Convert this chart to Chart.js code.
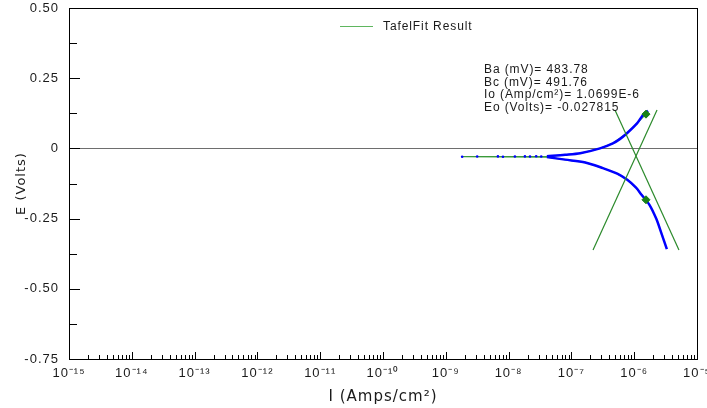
<!DOCTYPE html>
<html>
<head>
<meta charset="utf-8">
<script src="https://cdn.jsdelivr.net/npm/chart.js@4"></script>
<style>
  body { margin: 0; background: #fff; }
  #tafel-chart { display: block; }
</style>
</head>
<body>
<canvas id="tafel-chart" width="707" height="408"></canvas>
<script>
// axis ticks
const xTickExps = [-15, -14, -13, -12, -11, -10, -9, -8, -7, -6, -5];
const yTickValues = [-0.75, -0.5, -0.25, 0, 0.25, 0.5];

// measured scan, cathodic branch (|I| in A/cm2, E in V)
const cathodicI = [4.07e-8, 7.94e-8, 1.66e-7, 3.16e-7, 5.37e-7, 7.76e-7, 1.07e-6, 1.32e-6, 1.74e-6, 2.24e-6, 2.69e-6, 3.31e-6];
const cathodicE = [-0.031, -0.040, -0.050, -0.070, -0.090, -0.112, -0.140, -0.166, -0.200, -0.250, -0.300, -0.359];

// measured scan, anodic branch
const anodicI = [4.07e-8, 7.94e-8, 1.38e-7, 2.85e-7, 4.57e-7, 5.89e-7, 7.67e-7, 1.11e-6, 1.38e-6, 1.66e-6];
const anodicE = [-0.028, -0.023, -0.0175, 0.0, 0.018, 0.033, 0.054, 0.089, 0.119, 0.134];

// scattered points around Ecorr
const noiseI = [1.82e-9, 3.16e-9, 6.76e-9, 8.13e-9, 1.26e-8, 1.82e-8, 2.19e-8, 2.75e-8, 3.31e-8];
const noiseE = [-0.0295, -0.029, -0.0285, -0.0295, -0.029, -0.0285, -0.029, -0.028, -0.029];

// TafelFit result curve
const fitI = [1.54e-6, 1.32e-6, 1.07e-6, 7.76e-7, 5.37e-7, 3.16e-7, 1.66e-7, 7.94e-8, 4.07e-8, 1.82e-9, 4.07e-8, 7.94e-8, 1.38e-7, 2.85e-7, 4.57e-7, 7.67e-7, 1.11e-6, 1.54e-6];
const fitE = [-0.183, -0.166, -0.140, -0.112, -0.090, -0.070, -0.050, -0.040, -0.031, -0.0295, -0.028, -0.023, -0.0175, 0.0, 0.018, 0.054, 0.089, 0.122];

// Tafel lines
const tafelAnodicI = [2.21e-7, 2.31e-6];
const tafelAnodicE = [-0.362, 0.137];
const tafelCathodicI = [4.94e-7, 5.16e-6];
const tafelCathodicE = [0.137, -0.362];

// fit region markers
const markerI = [1.54e-6, 1.54e-6];
const markerE = [0.122, -0.183];

const legendLabel = 'TafelFit Result';
const paramLines = ['Ba (mV)= 483.78', 'Bc (mV)= 491.76', 'Io (Amp/cm\u00B2)= 1.0699E-6', 'Eo (Volts)= -0.027815'];

function pts(xs, ys) {
  return xs.map((x, i) => ({ x: x, y: ys[i] }));
}

const supMap = { '-': '\u207B', '0': '\u2070', '1': '\u00B9', '2': '\u00B2', '3': '\u00B3', '4': '\u2074',
  '5': '\u2075', '6': '\u2076', '7': '\u2077', '8': '\u2078', '9': '\u2079' };
function sup(n) {
  return String(n).split('').map(c => supMap[c]).join('');
}

const blue = '#0000ff';
const green = '#2b8a2b';

// frame, inside tick marks, legend and fit parameters
const decorPlugin = {
  id: 'decor',
  beforeDraw(chart) {
    chart.ctx.letterSpacing = '1px';
  },
  afterDraw(chart) {
    const ctx = chart.ctx;
    const a = chart.chartArea;
    const xs = chart.scales.x;
    const ys = chart.scales.y;
    ctx.save();
    ctx.strokeStyle = '#000';
    ctx.lineWidth = 1;
    ctx.strokeRect(a.left + 0.5, a.top + 0.5, a.right - a.left, a.bottom - a.top);

    ctx.beginPath();
    // y ticks, pointing inward
    yTickValues.forEach((v, i) => {
      const py = Math.round(ys.getPixelForValue(v)) + 0.5;
      ctx.moveTo(a.left, py); ctx.lineTo(a.left + 11, py);
      if (i < yTickValues.length - 1) {
        const pm = Math.round(ys.getPixelForValue((v + yTickValues[i + 1]) / 2)) + 0.5;
        ctx.moveTo(a.left, pm); ctx.lineTo(a.left + 8, pm);
      }
    });
    // x ticks: decades and 2..9 in between
    xTickExps.forEach((e, i) => {
      const base = Number('1e' + e);
      const px = Math.round(xs.getPixelForValue(base)) + 0.5;
      ctx.moveTo(px, a.bottom); ctx.lineTo(px, a.bottom - 7);
      if (i < xTickExps.length - 1) {
        for (let m = 2; m <= 9; m++) {
          const pm = Math.round(xs.getPixelForValue(m * base)) + 0.5;
          ctx.moveTo(pm, a.bottom); ctx.lineTo(pm, a.bottom - 4);
        }
      }
    });
    ctx.stroke();

    // legend
    ctx.strokeStyle = '#5fb65f';
    ctx.beginPath();
    ctx.moveTo(340, 26.5); ctx.lineTo(373, 26.5);
    ctx.stroke();
    ctx.fillStyle = '#1a1a1a';
    ctx.font = '12px "Liberation Sans", Arial, sans-serif';
    ctx.letterSpacing = '0.9px';
    ctx.textBaseline = 'middle';
    ctx.textAlign = 'left';
    ctx.fillText(legendLabel, 383, 26.5);

    // fit parameters
    paramLines.forEach((t, i) => {
      ctx.fillText(t, 484, 70 + i * 12.5);
    });
    ctx.restore();
  }
};

const config = {
  type: 'scatter',
  data: {
    datasets: [
      {
        label: 'markers',
        data: pts(markerI, markerE),
        showLine: false,
        pointStyle: 'rectRot',
        pointRadius: 4,
        backgroundColor: '#178017',
        borderColor: '#178017',
      },
      {
        label: 'anodic Tafel',
        data: pts(tafelAnodicI, tafelAnodicE),
        showLine: true,
        borderColor: green,
        borderWidth: 1.2,
        pointRadius: 0,
      },
      {
        label: 'cathodic Tafel',
        data: pts(tafelCathodicI, tafelCathodicE),
        showLine: true,
        borderColor: green,
        borderWidth: 1.2,
        pointRadius: 0,
      },
      {
        label: 'noise',
        data: pts(noiseI, noiseE),
        showLine: false,
        pointRadius: 1.3,
        backgroundColor: blue,
        borderWidth: 0,
      },
      {
        label: 'anodic',
        data: pts(anodicI, anodicE),
        showLine: true,
        borderColor: blue,
        borderWidth: 2.5,
        pointRadius: 0,
        tension: 0.3,
      },
      {
        label: 'cathodic',
        data: pts(cathodicI, cathodicE),
        showLine: true,
        borderColor: blue,
        borderWidth: 2.5,
        pointRadius: 0,
        tension: 0.3,
      },
      {
        label: legendLabel,
        data: pts(fitI, fitE),
        showLine: true,
        borderColor: '#3a9a3a',
        borderWidth: 1.2,
        pointRadius: 0,
      },
    ],
  },
  options: {
    responsive: false,
    animation: false,
    devicePixelRatio: 1,
    layout: { padding: { top: 8, right: 10, left: 0, bottom: 0 } },
    plugins: {
      legend: { display: false },
      tooltip: { enabled: false },
    },
    scales: {
      x: {
        type: 'logarithmic',
        min: 1e-15,
        max: 1e-5,
        afterBuildTicks(scale) {
          scale.ticks = xTickExps.map(e => ({ value: Number('1e' + e) }));
        },
        afterFit(scale) {
          scale.height = 49;
          scale.paddingLeft = 0;
          scale.paddingRight = 0;
        },
        grid: { display: false, drawTicks: false },
        border: { display: false },
        ticks: {
          padding: 7,
          maxRotation: 0,
          autoSkip: false,
          color: '#1a1a1a',
          font: { family: '"Liberation Sans", Arial, sans-serif', size: 13 },
          callback: (value) => '10' + sup(Math.round(Math.log10(value))),
        },
        title: {
          display: true,
          text: 'I (Amps/cm\u00B2)',
          color: '#1a1a1a',
          font: { family: '"DejaVu Sans", sans-serif', size: 15 },
          padding: { top: 2, bottom: 2 },
        },
      },
      y: {
        type: 'linear',
        min: -0.75,
        max: 0.5,
        afterBuildTicks(scale) {
          scale.ticks = yTickValues.map(v => ({ value: v }));
        },
        afterFit(scale) {
          scale.width = 69;
          scale.paddingTop = 0;
          scale.paddingBottom = 0;
        },
        grid: {
          drawTicks: false,
          color: (c) => (c.tick && c.tick.value === 0 ? '#6e6e6e' : 'rgba(0,0,0,0)'),
        },
        border: { display: false },
        ticks: {
          padding: 10,
          color: '#1a1a1a',
          font: { family: '"Liberation Sans", Arial, sans-serif', size: 13 },
          callback: (value) => (value === 0 ? '0' : value.toFixed(2)),
        },
        title: {
          display: true,
          text: 'E (Volts)',
          color: '#1a1a1a',
          font: { family: '"DejaVu Sans", sans-serif', size: 13 },
          padding: { top: 14, bottom: 14 },
        },
      },
    },
  },
  plugins: [decorPlugin],
};

const ctx = document.getElementById('tafel-chart').getContext('2d');
const chart = new Chart(ctx, config);
</script>
</body>
</html>
